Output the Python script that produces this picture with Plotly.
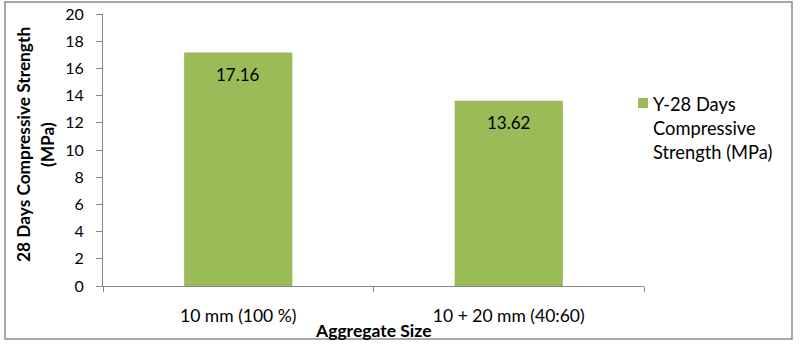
import plotly.graph_objects as go

categories = ["10 mm (100 %)", "10 + 20 mm (40:60)"]
values = [17.16, 13.62]
labels = ["17.16", "13.62"]
legend_lines = ["Y-28 Days", "Compressive", "Strength (MPa)"]
y_ticks = [0, 2, 4, 6, 8, 10, 12, 14, 16, 18, 20]

W, H = 803, 346
L, R, T, B = 103, 644, 14, 286  # plot area in pixels
pw, ph = R - L, B - T

def px(x):
    return (x - L) / pw

def py(y):
    return (B - y) / ph

FONT = "Lato"
GREEN = "#9BBB59"
AX = "#868686"

fig = go.Figure()
fig.add_trace(go.Bar(
    x=categories, y=values, name=" ".join(legend_lines),
    marker=dict(color=GREEN, line=dict(width=0)),
    width=0.4, showlegend=False,
))

for c, v, t in zip(categories, values, labels):
    fig.add_annotation(x=c, y=v, text=t, showarrow=False, yshift=-22,
                       yanchor="middle", xanchor="center",
                       font=dict(family=FONT, size=17, color="#000"))

# x-axis title
fig.add_annotation(x=0.5, y=py(330), xref="paper", yref="paper",
                   text="<b>Aggregate Size</b>", showarrow=False,
                   xanchor="center", yanchor="middle",
                   font=dict(family=FONT, size=17.5, color="#000"))

# y-axis title (two lines)
for txt, xp in [("<b>28 Days Compressive Strength</b>", 23), ("<b>(MPa)</b>", 47)]:
    fig.add_annotation(x=px(xp), y=py(145), xref="paper", yref="paper",
                       text=txt, showarrow=False, textangle=-90,
                       xanchor="center", yanchor="middle",
                       font=dict(family=FONT, size=17.3, color="#000"))

# legend (manual)
fig.add_shape(type="rect", xref="paper", yref="paper",
              x0=px(638), x1=px(648), y0=py(108), y1=py(98),
              line=dict(width=0), fillcolor=GREEN)
for txt, yc in zip(legend_lines, [104, 128, 152]):
    fig.add_annotation(x=px(651), y=py(yc), xref="paper", yref="paper",
                       text=txt, showarrow=False, xanchor="left", yanchor="middle",
                       font=dict(family=FONT, size=18.3, color="#000"))

# chart border
fig.add_shape(type="rect", xref="paper", yref="paper",
              x0=px(5), x1=px(792), y0=py(339), y1=py(2),
              line=dict(color="#8C8C8C", width=1.5), fillcolor="rgba(0,0,0,0)")

fig.update_layout(
    template="none",
    width=W, height=H,
    margin=dict(l=L, r=W - R, t=T, b=H - B, autoexpand=False),
    paper_bgcolor="white", plot_bgcolor="white",
    showlegend=False,
    font=dict(family=FONT, size=16, color="#000"),
    xaxis=dict(
        type="category", showline=True, linecolor=AX, linewidth=1,
        ticks="outside", tickson="boundaries", ticklen=5, tickcolor=AX,
        showgrid=False, zeroline=False, automargin=False,
        ticklabelstandoff=14,
        tickfont=dict(family=FONT, size=17.5, color="#000"),
    ),
    yaxis=dict(
        range=[0, 20], tickvals=y_ticks, showline=True, linecolor=AX,
        linewidth=1, ticks="outside", ticklen=6, tickcolor=AX,
        showgrid=False, zeroline=False, automargin=False,
        ticklabelstandoff=9,
        tickfont=dict(family=FONT, size=16, color="#000"),
    ),
)

fig.write_html("out.html")
